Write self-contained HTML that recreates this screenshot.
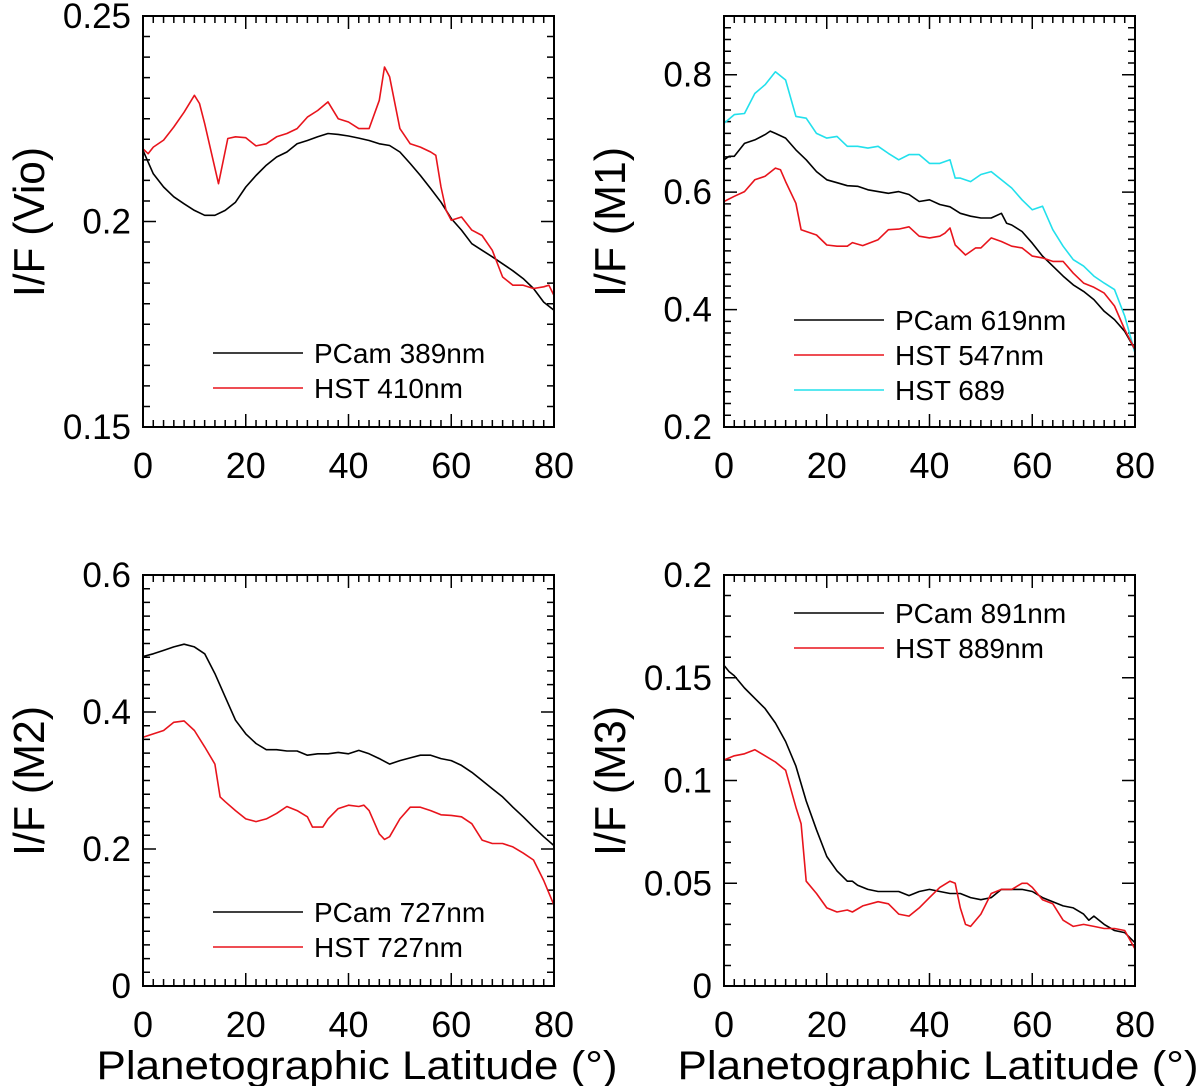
<!DOCTYPE html>
<html><head><meta charset="utf-8"><style>
body{margin:0;background:#fff;}
svg text{font-family:"Liberation Sans",Arial,sans-serif;fill:#000;}
</style></head><body>
<svg id="chart" width="1200" height="1086" xmlns="http://www.w3.org/2000/svg"></svg>
<script>
const xTickLabels = ["0","20","40","60","80"];
// Panel 1 (Vio)
const p1BlackLat = [0,2,4,6,8,10,12,14,16,18,20,22,24,26,28,30,32,34,36,38,40,42,44,46,48,50,52,54,56,58,60,62,64,66,68,70,72,74,76,78,80];
const p1BlackVal = [0.2173,0.2116,0.2084,0.2060,0.2043,0.2027,0.2015,0.2015,0.2027,0.2047,0.2084,0.2112,0.2137,0.2157,0.2169,0.2189,0.2197,0.2206,0.2214,0.2212,0.2208,0.2203,0.2197,0.2189,0.2185,0.2169,0.2141,0.2112,0.2080,0.2047,0.2007,0.1979,0.1946,0.1930,0.1914,0.1897,0.1880,0.1861,0.1837,0.1804,0.1784];
const p1RedLat = [0,1,2,4,6,8,10,11,12,14.7,16.5,18,20,22,24,26,28,30,32,34,36,38,40,42,44,46,47,48,50,52,54,56,57,58,59,60,62,64,66,68,70,72,74,76,78,79,80];
const p1RedVal = [0.2177,0.2165,0.2181,0.2198,0.2230,0.2266,0.2307,0.2287,0.2238,0.2092,0.2202,0.2206,0.2204,0.2184,0.2189,0.2206,0.2214,0.2226,0.2254,0.2270,0.2291,0.2250,0.2242,0.2226,0.2226,0.2295,0.2376,0.2352,0.2226,0.2189,0.2181,0.2169,0.2161,0.2084,0.2027,0.2003,0.2011,0.1979,0.1966,0.1930,0.1865,0.1845,0.1845,0.1837,0.1841,0.1845,0.1820];
const p1YTicks = ["0.15","0.2","0.25"];
// Panel 2 (M1)
const p2CyanLat = [0,2,4,6,8,10,12,14,16,18,20,22,24,26,28,30,32,34,36,38,40,42,44,45,46,48,50,52,54,56,58,60,62,64,66,68,70,72,74,76,78,80];
const p2CyanVal = [0.717,0.732,0.734,0.768,0.783,0.805,0.791,0.729,0.726,0.700,0.692,0.695,0.678,0.678,0.675,0.678,0.666,0.655,0.664,0.664,0.649,0.649,0.655,0.624,0.624,0.618,0.630,0.635,0.621,0.607,0.587,0.570,0.576,0.536,0.508,0.485,0.474,0.457,0.445,0.434,0.389,0.326];
const p2BlackLat = [0,1,2,4,6,8,9,10,12,14,16,18,20,22,24,26,28,30,32,34,36,38,40,42,44,46,48,50,52,54,55,56,58,60,62,64,66,68,70,72,74,76,78,80];
const p2BlackVal = [0.655,0.661,0.661,0.683,0.689,0.698,0.704,0.700,0.692,0.672,0.655,0.635,0.621,0.616,0.611,0.610,0.604,0.601,0.598,0.601,0.596,0.584,0.587,0.579,0.575,0.564,0.559,0.556,0.556,0.564,0.547,0.544,0.533,0.513,0.491,0.474,0.457,0.442,0.431,0.417,0.397,0.383,0.363,0.332];
const p2RedLat = [0,2,4,6,8,10,11,12,14,15,16,18,20,22,24,25,27,30,32,34,36,38,40,42,43,44,45,47,49,50,52,54,56,58,60,62,64,66,68,70,72,74,76,78,80];
const p2RedVal = [0.584,0.593,0.601,0.621,0.627,0.641,0.638,0.618,0.581,0.536,0.533,0.527,0.510,0.508,0.508,0.514,0.509,0.519,0.536,0.537,0.541,0.525,0.522,0.525,0.530,0.539,0.510,0.493,0.505,0.505,0.522,0.516,0.508,0.505,0.491,0.488,0.482,0.482,0.462,0.445,0.438,0.428,0.406,0.366,0.332];
const p2YTicks = ["0.2","0.4","0.6","0.8"];
// Panel 3 (M2)
const p3BlackLat = [0,2,4,6,8,10,12,14,16,18,20,22,24,26,28,30,32,34,36,38,40,42,44,46,48,50,52,54,56,58,60,62,64,66,68,70,72,74,76,78,80];
const p3BlackVal = [0.481,0.485,0.490,0.495,0.499,0.495,0.485,0.456,0.422,0.388,0.368,0.354,0.345,0.345,0.343,0.343,0.337,0.339,0.339,0.341,0.339,0.344,0.339,0.332,0.324,0.329,0.333,0.337,0.337,0.332,0.329,0.322,0.312,0.300,0.288,0.276,0.261,0.247,0.232,0.218,0.205];
const p3RedLat = [0,2,4,6,8,10,12,14,15,16,18,20,22,24,26,28,30,32,33,35,36,38,40,42,43,44,46,47,48,50,52,54,56,58,60,62,64,66,68,70,72,74,76,78,80];
const p3RedVal = [0.363,0.368,0.373,0.385,0.387,0.373,0.349,0.324,0.276,0.269,0.256,0.244,0.240,0.244,0.252,0.262,0.256,0.247,0.232,0.232,0.244,0.259,0.264,0.262,0.264,0.256,0.222,0.214,0.218,0.244,0.261,0.261,0.256,0.250,0.249,0.247,0.237,0.213,0.208,0.208,0.203,0.194,0.184,0.154,0.118];
const p3YTicks = ["0","0.2","0.4","0.6"];
// Panel 4 (M3)
const p4BlackLat = [0,1,2,4,6,8,10,12,14,16,18,20,22,24,25,26,28,30,32,34,36,38,40,42,44,46,48,50,52,54,56,58,60,62,64,66,68,70,71,72,74,76,78,80];
const p4BlackVal = [0.156,0.153,0.151,0.145,0.140,0.135,0.128,0.119,0.107,0.090,0.076,0.063,0.056,0.051,0.051,0.049,0.047,0.046,0.046,0.046,0.044,0.046,0.047,0.046,0.045,0.045,0.043,0.042,0.043,0.047,0.047,0.047,0.046,0.043,0.041,0.039,0.038,0.035,0.032,0.034,0.030,0.027,0.026,0.021];
const p4RedLat = [0,2,4,6,8,10,12,14,15,16,18,20,22,24,25,27,30,32,34,36,38,40,42,44,45,46,47,48,50,52,54,56,58,59,60,62,64,66,68,70,72,74,76,78,80];
const p4RedVal = [0.110,0.112,0.113,0.115,0.112,0.109,0.105,0.087,0.079,0.051,0.045,0.038,0.036,0.037,0.036,0.039,0.041,0.040,0.035,0.034,0.038,0.043,0.048,0.051,0.050,0.038,0.030,0.029,0.035,0.045,0.047,0.047,0.050,0.050,0.048,0.042,0.040,0.032,0.029,0.030,0.029,0.028,0.028,0.027,0.018];
const p4YTicks = ["0","0.05","0.1","0.15","0.2"];

const NS="http://www.w3.org/2000/svg";
const svg=document.getElementById('chart');
function mk(tag,attrs,parent){const e=document.createElementNS(NS,tag);for(const k in attrs)e.setAttribute(k,attrs[k]);(parent||svg).appendChild(e);return e;}

function panel(cfg){
  const g=mk('g',{});
  
  
  const L=cfg.x,T=cfg.y,W=411,H=411;
  const sx=v=>L+v/80*W;
  const sy=v=>T+H-(v-cfg.ymin)/(cfg.ymax-cfg.ymin)*H;
  let d='';
  for(let i=0;i<=40;i++){const x=sx(i*2);const len=(i%10===0)?13:7;d+=`M${x},${T+H}v${-len}M${x},${T}v${len}`;}
  const n=Math.round((cfg.ymax-cfg.ymin)/cfg.minor);
  for(let i=0;i<=n;i++){const v=cfg.ymin+i*cfg.minor;const y=sy(v);const maj=Math.abs(Math.round(v/cfg.major)*cfg.major-v)<1e-9;const len=maj?13:7;d+=`M${L},${y}h${len}M${L+W},${y}h${-len}`;}
  const tk=mk('path',{d:d,stroke:'#000','stroke-width':1.5,fill:'none'},g);
  
  
  cfg.series.forEach(s=>{
    const p=mk('polyline',{points:s.lat.map((la,i)=>sx(la).toFixed(1)+','+sy(s.val[i]).toFixed(1)).join(' '),fill:'none',stroke:s.color,'stroke-width':1.6,'stroke-linejoin':'round'},g);
    
    
  });
  const fr=mk('rect',{x:L,y:T,width:W,height:H,fill:'none',stroke:'#000','stroke-width':2},g);
  
  
  xTickLabels.forEach((t,i)=>{const e=mk('text',{x:sx(i*20),y:T+H+51,'text-anchor':'middle','font-size':36},g);e.textContent=t;
    
    });
  cfg.yt.forEach(t=>{const e=mk('text',{x:L-12,y:sy(parseFloat(t))+12,'text-anchor':'end','font-size':35},g);e.textContent=t;
    
    });
  const yt=mk('text',{transform:`translate(${L-99},${T+206}) rotate(-90)`,'text-anchor':'middle','font-size':44,textLength:150,lengthAdjust:'spacingAndGlyphs'},g);yt.textContent=cfg.ytitle;
  
  
  if(cfg.xtitle){const xt=mk('text',{x:L+214,y:T+H+93,'text-anchor':'middle','font-size':40,textLength:521,lengthAdjust:'spacingAndGlyphs'},g);xt.textContent='Planetographic Latitude (°)';
    
    }
  cfg.legend.forEach((l,i)=>{const y=cfg.legY+i*35;
    const ln=mk('line',{x1:L+70,x2:L+160,y1:y,y2:y,stroke:l.color,'stroke-width':1.6},g);
    
    
    const tx=mk('text',{x:L+171,y:y+10,'font-size':28},g);tx.textContent=l.label;
    
    });
}
panel({name:'panel-vio',x:143,y:16,ymin:0.15,ymax:0.25,minor:0.005,major:0.05,yt:p1YTicks,ytitle:'I/F (Vio)',legY:353,
  series:[{name:'pcam-389-line',lat:p1BlackLat,val:p1BlackVal,color:'#000'},{name:'hst-410-line',lat:p1RedLat,val:p1RedVal,color:'#e8141c'}],
  legend:[{color:'#000',label:'PCam 389nm'},{color:'#e8141c',label:'HST 410nm'}]});
panel({name:'panel-m1',x:724,y:16,ymin:0.2,ymax:0.9,minor:0.02,major:0.2,yt:p2YTicks,ytitle:'I/F (M1)',legY:320,
  series:[{name:'hst-689-line',lat:p2CyanLat,val:p2CyanVal,color:'#22e0ec'},{name:'pcam-619-line',lat:p2BlackLat,val:p2BlackVal,color:'#000'},{name:'hst-547-line',lat:p2RedLat,val:p2RedVal,color:'#e8141c'}],
  legend:[{color:'#000',label:'PCam 619nm'},{color:'#e8141c',label:'HST 547nm'},{color:'#22e0ec',label:'HST 689'}]});
panel({name:'panel-m2',x:143,y:575,ymin:0,ymax:0.6,minor:0.02,major:0.2,yt:p3YTicks,ytitle:'I/F (M2)',legY:912,xtitle:true,
  series:[{name:'pcam-727-line',lat:p3BlackLat,val:p3BlackVal,color:'#000'},{name:'hst-727-line',lat:p3RedLat,val:p3RedVal,color:'#e8141c'}],
  legend:[{color:'#000',label:'PCam 727nm'},{color:'#e8141c',label:'HST 727nm'}]});
panel({name:'panel-m3',x:724,y:575,ymin:0,ymax:0.2,minor:0.01,major:0.05,yt:p4YTicks,ytitle:'I/F (M3)',legY:613,xtitle:true,
  series:[{name:'pcam-891-line',lat:p4BlackLat,val:p4BlackVal,color:'#000'},{name:'hst-889-line',lat:p4RedLat,val:p4RedVal,color:'#e8141c'}],
  legend:[{color:'#000',label:'PCam 891nm'},{color:'#e8141c',label:'HST 889nm'}]});
</script>
</body></html>
